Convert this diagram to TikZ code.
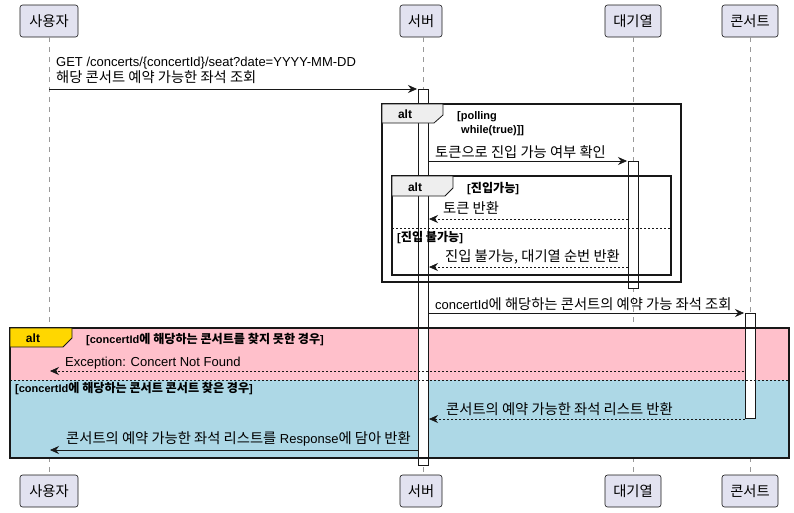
\documentclass[tikz,border=0pt]{standalone}
\usepackage{fontspec}
\setmainfont{Liberation Sans}
\newfontfamily\krf{Noto Sans CJK KR}[Scale=1.1]
\newcommand\kor[1]{{\krf #1}}
\usetikzlibrary{arrows.meta}
\definecolor{partfill}{HTML}{E2E2F0}
\definecolor{partline}{HTML}{181818}
\definecolor{tabfill}{HTML}{EEEEEE}
\definecolor{pinkbg}{HTML}{FFC0CB}
\definecolor{bluebg}{HTML}{ADD8E6}
\definecolor{goldbg}{HTML}{FFD700}
\begin{document}
\begin{tikzpicture}[x=1pt,y=-1pt,
  part/.style={draw=partline,fill=partfill,rounded corners=2.5pt,line width=0.6pt,
    minimum height=32pt,inner xsep=6pt,font=\fontsize{13}{15}\selectfont\krf},
  life/.style={draw=gray!80,line width=0.5pt,dash pattern=on 5pt off 5pt},
  actbar/.style={draw=partline,fill=white,line width=0.6pt},
  msg/.style={draw=partline,line width=0.6pt,-{Stealth[length=9pt,width=8pt,inset=3pt]}},
  ret/.style={msg,dash pattern=on 2pt off 2pt},
  mtxt/.style={anchor=base west,inner sep=0pt,font=\fontsize{13}{15}\selectfont},
  gtxt/.style={anchor=base west,inner sep=0pt,font=\fontsize{11}{13}\selectfont\bfseries},
  frame/.style={draw=partline,line width=1.4pt},
  tab/.style={draw=partline,line width=0.8pt},
  sep/.style={draw=partline,line width=0.6pt,dash pattern=on 2pt off 2pt},
  alttxt/.style={inner sep=0pt,font=\fontsize{12}{14}\selectfont\bfseries}
]
\useasboundingbox (0,0) rectangle (794,512);

% participants
\node[part,minimum width=58pt] (u1) at (49,21) {사용자};
\node[part,minimum width=42pt] (s1) at (421,21) {서버};
\node[part,minimum width=56pt] (q1) at (633,21) {대기열};
\node[part,minimum width=56pt] (c1) at (750,21) {콘서트};
\node[part,minimum width=58pt] (u2) at (49,491) {사용자};
\node[part,minimum width=42pt] (s2) at (421,491) {서버};
\node[part,minimum width=56pt] (q2) at (633,491) {대기열};
\node[part,minimum width=56pt] (c2) at (750,491) {콘서트};

% lifelines
\draw[life] (u1) -- (u2);
\draw[life] (423,37) -- (423,475);
\draw[life] (q1) -- (q2);
\draw[life] (c1) -- (c2);

% big alt frame backgrounds
\fill[pinkbg] (10,328) rectangle (789,380);
\fill[bluebg] (10,380) rectangle (789,458);

% activation bars
\draw[actbar] (418,89) rectangle (428,465);
\draw[actbar] (628,161) rectangle (638,288);
\draw[actbar] (745,313) rectangle (755,418);

% message 1
\node[mtxt] (t1a) at (56,66) {GET /concerts/\{concertId\}/seat?date=YYYY-MM-DD};
\node[mtxt] (t1b) at (56,82) {\kor{해당 콘서트 예약 가능한 좌석 조회}};
\coordinate (m1s) at (49,89);
\coordinate (m1e) at (417,89);
\draw[msg] (m1s) -- (m1e);

% outer alt (polling)
\draw[frame] (382,104) rectangle (681,282);
\draw[tab,fill=tabfill] (382,104) -- (443,104) -- (443,115) -- (434,123) -- (382,123) -- cycle;
\node[alttxt] (a1) at (405,114) {alt};
\node[gtxt] (g1a) at (457,119) {[polling};
\node[gtxt] (g1b) at (461,133) {while(true)]]};

% message 2
\node[mtxt] (t2) at (435,157) {\kor{토큰으로 진입 가능 여부 확인}};
\coordinate (m2s) at (428,161);
\coordinate (m2e) at (627,161);
\draw[msg] (m2s) -- (m2e);

% inner alt
\draw[frame,line width=1.2pt] (392,176) rectangle (671,275);
\draw[tab,fill=tabfill] (392,176) -- (453,176) -- (453,188) -- (445,196) -- (392,196) -- cycle;
\node[alttxt] (a2) at (415,187) {alt};
\node[gtxt] (g2) at (467,192) {[\kor{진입가능}]};

\node[mtxt] (t3) at (443,213) {\kor{토큰 반환}};
\coordinate (m3s) at (628,219);
\coordinate (m3e) at (429,219);
\draw[ret] (m3s) -- (m3e);

\draw[sep] (392,228) -- (671,228);
\node[gtxt] (g3) at (397,241) {[\kor{진입 불가능}]};

\node[mtxt] (t4) at (445,261) {\kor{진입 불가능, 대기열 순번 반환}};
\coordinate (m4s) at (628,267);
\coordinate (m4e) at (429,267);
\draw[ret] (m4s) -- (m4e);

% message 5
\node[mtxt] (t5) at (435,309) {concertId\kor{에 해당하는 콘서트의 예약 가능 좌석 조회}};
\coordinate (m5s) at (428,313);
\coordinate (m5e) at (744,313);
\draw[msg] (m5s) -- (m5e);

% big alt frame
\draw[frame] (10,328) rectangle (789,458);
\draw[tab,fill=goldbg] (10,328) -- (72,328) -- (72,338) -- (63,347) -- (10,347) -- cycle;
\node[alttxt] (a3) at (33,338) {alt};
\node[gtxt] (g4) at (86,343) {[concertId\kor{에 해당하는 콘서트를 찾지 못한 경우}]};

\node[mtxt] (t6) at (65,366) {Exception: Concert Not Found};
\coordinate (m6s) at (744,371);
\coordinate (m6e) at (50,371);
\draw[ret] (m6s) -- (m6e);

\draw[sep] (10,380) -- (789,380);
\node[gtxt] (g5) at (15,392) {[concertId\kor{에 해당하는 콘서트 콘서트 찾은 경우}]};

\node[mtxt] (t7) at (446,414) {\kor{콘서트의 예약 가능한 좌석 리스트 반환}};
\coordinate (m7s) at (745,419);
\coordinate (m7e) at (429,419);
\draw[ret] (m7s) -- (m7e);

\node[mtxt] (t8) at (66,443) {\kor{콘서트의 예약 가능한 좌석 리스트를} Response\kor{에 담아 반환}};
\coordinate (m8s) at (418,450);
\coordinate (m8e) at (50,450);
\draw[msg] (m8s) -- (m8e);

\end{tikzpicture}
\end{document}
